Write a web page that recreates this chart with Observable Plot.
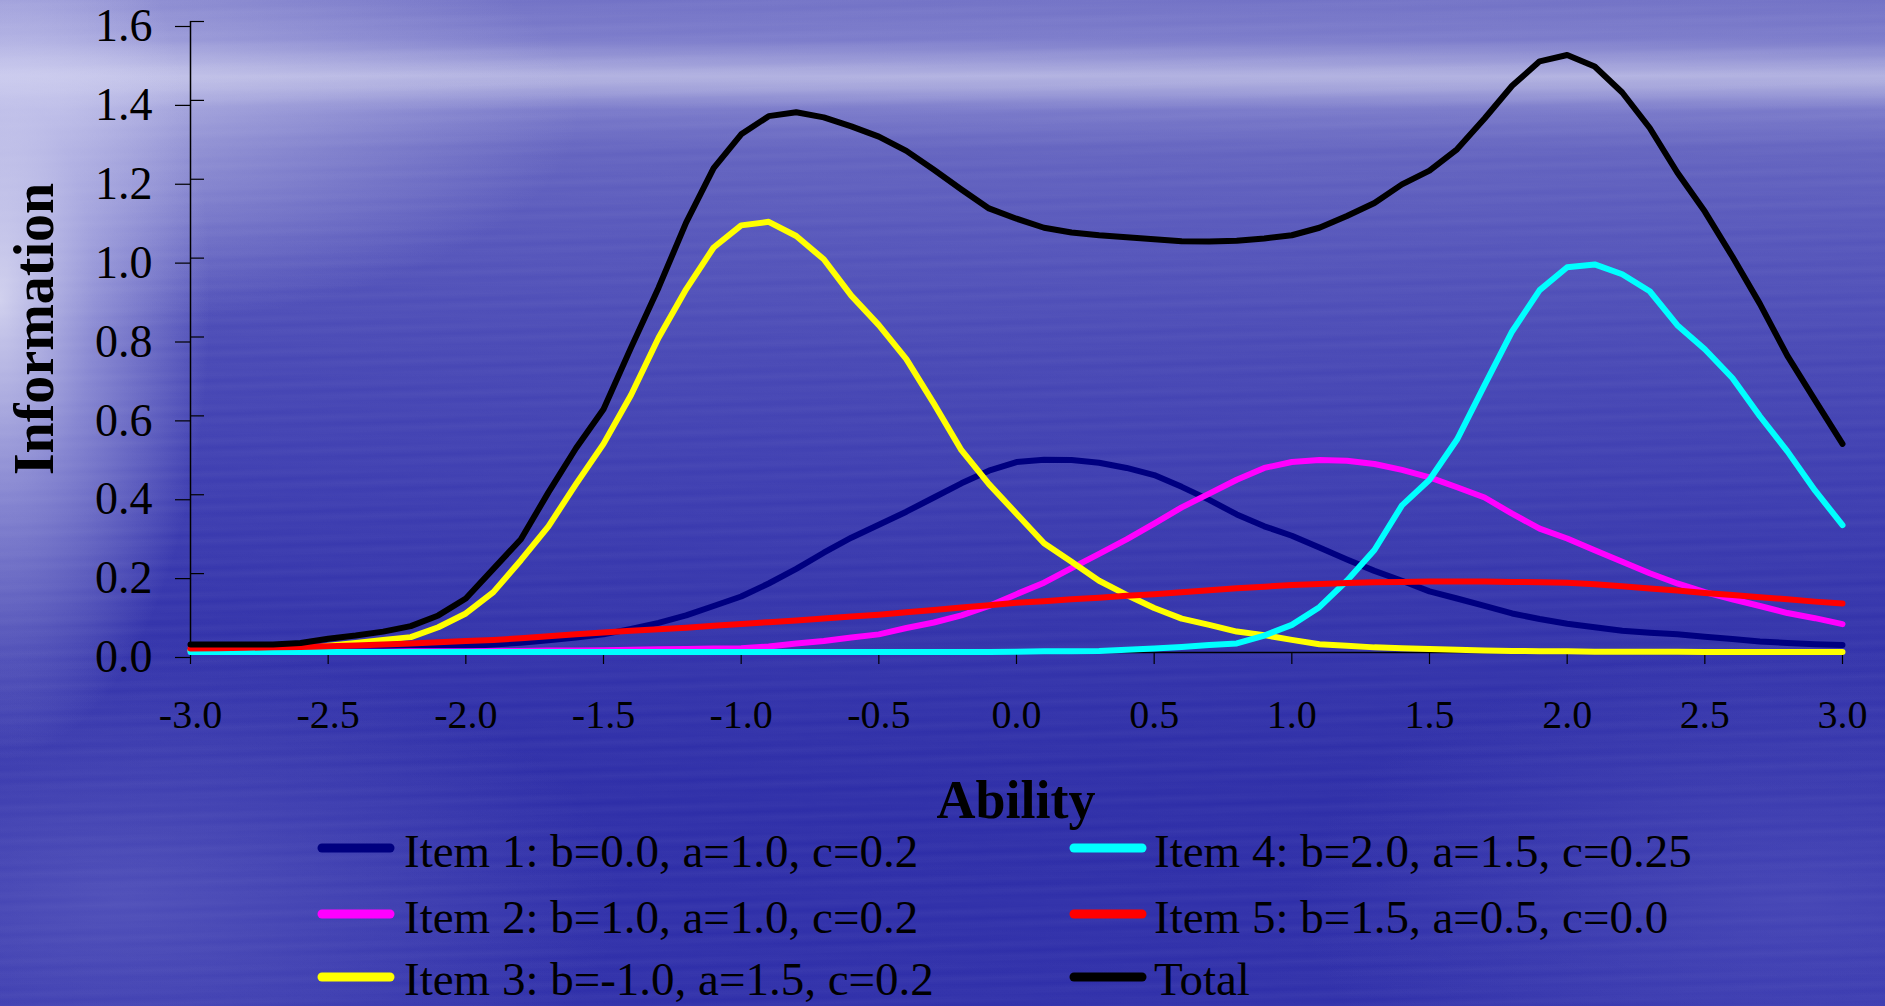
<!DOCTYPE html>
<html>
<head>
<meta charset="utf-8">
<script src="https://cdn.jsdelivr.net/npm/d3@7"></script>
<script src="https://cdn.jsdelivr.net/npm/@observablehq/plot@0.6"></script>
<style>
  html, body { margin: 0; padding: 0; }
  body { width: 1885px; height: 1006px; overflow: hidden; position: relative; font-family: "Liberation Serif", "Times New Roman", serif; }
  #bg {
    position: absolute; left: 0; top: 0; width: 1885px; height: 1006px;
    background:
      radial-gradient(ellipse 210px 460px at 0px 300px, rgba(238,238,250,0.80) 0%, rgba(215,215,245,0.45) 45%, rgba(200,200,240,0) 100%),
      radial-gradient(ellipse 520px 220px at 60px 110px, rgba(215,215,242,0.55) 0%, rgba(215,215,242,0) 100%),
      radial-gradient(ellipse 500px 260px at 120px 900px, rgba(140,140,215,0.35) 0%, rgba(140,140,215,0) 100%),
      radial-gradient(ellipse 500px 260px at 1800px 900px, rgba(120,120,210,0.30) 0%, rgba(120,120,210,0) 100%),
      repeating-linear-gradient(179deg, rgba(255,255,255,0) 0px, rgba(255,255,255,0.025) 5px, rgba(255,255,255,0) 11px),
      repeating-linear-gradient(177deg, rgba(255,255,255,0) 0px, rgba(255,255,255,0.02) 8px, rgba(255,255,255,0) 17px),
      linear-gradient(180deg, #7272c6 0px, #7c7ccb 40px, #9c9cd8 62px, #b2b2e1 76px, #a4a4db 88px, #7a7aca 110px, #6464c0 150px, #5656bb 240px, #4848b5 360px, #3e3eb1 480px, #3434ab 620px, #2e2ea8 800px, #3030aa 1006px);
  }
  #plot { position: absolute; left: 0; top: 0; }
  #overlay { position: absolute; left: 0; top: 0; }
</style>
</head>
<body>
<div id="bg"></div>
<div id="plot"></div>
<svg id="overlay" width="1885" height="1006"></svg>
<script>
// Ability values (theta)
const theta = [-3.0,-2.9,-2.8,-2.7,-2.6,-2.5,-2.4,-2.3,-2.2,-2.1,-2.0,-1.9,-1.8,-1.7,-1.6,-1.5,-1.4,-1.3,-1.2,-1.1,-1.0,-0.9,-0.8,-0.7,-0.6,-0.5,-0.4,-0.3,-0.2,-0.1,0.0,0.1,0.2,0.3,0.4,0.5,0.6,0.7,0.8,0.9,1.0,1.1,1.2,1.3,1.4,1.5,1.6,1.7,1.8,1.9,2.0,2.1,2.2,2.3,2.4,2.5,2.6,2.7,2.8,2.9,3.0];

const item1 = [0.002,0.002,0.003,0.003,0.004,0.005,0.006,0.008,0.010,0.013,0.016,0.020,0.025,0.031,0.038,0.046,0.060,0.075,0.094,0.118,0.142,0.175,0.212,0.253,0.291,0.324,0.357,0.393,0.429,0.461,0.483,0.489,0.488,0.481,0.468,0.450,0.420,0.387,0.350,0.320,0.296,0.266,0.236,0.207,0.182,0.155,0.137,0.118,0.099,0.085,0.073,0.064,0.055,0.050,0.046,0.040,0.034,0.028,0.024,0.021,0.019];

const item2 = [0.001,0.001,0.001,0.001,0.002,0.002,0.002,0.002,0.003,0.003,0.003,0.004,0.004,0.005,0.005,0.006,0.007,0.008,0.009,0.010,0.011,0.015,0.023,0.029,0.038,0.046,0.062,0.076,0.094,0.118,0.148,0.177,0.214,0.250,0.287,0.327,0.368,0.403,0.438,0.468,0.483,0.488,0.486,0.478,0.463,0.444,0.419,0.393,0.352,0.314,0.289,0.259,0.230,0.201,0.175,0.153,0.135,0.118,0.100,0.087,0.072];

const item3 = [0.005,0.005,0.005,0.005,0.006,0.017,0.024,0.032,0.039,0.064,0.099,0.153,0.234,0.320,0.427,0.529,0.653,0.798,0.921,1.027,1.083,1.092,1.056,0.997,0.905,0.830,0.744,0.631,0.513,0.427,0.352,0.277,0.230,0.182,0.146,0.113,0.086,0.070,0.053,0.044,0.032,0.021,0.017,0.013,0.011,0.009,0.007,0.005,0.004,0.003,0.003,0.002,0.002,0.002,0.002,0.001,0.001,0.001,0.001,0.001,0.001];

const item4 = [0.001,0.001,0.001,0.001,0.001,0.001,0.001,0.001,0.001,0.001,0.001,0.001,0.001,0.001,0.001,0.001,0.001,0.001,0.001,0.001,0.001,0.001,0.001,0.001,0.001,0.001,0.001,0.001,0.001,0.001,0.002,0.003,0.003,0.004,0.007,0.010,0.014,0.019,0.023,0.043,0.070,0.115,0.182,0.260,0.373,0.438,0.540,0.678,0.814,0.919,0.977,0.984,0.959,0.916,0.830,0.769,0.696,0.599,0.510,0.411,0.323];

const item5 = [0.010,0.011,0.012,0.013,0.014,0.016,0.018,0.020,0.023,0.026,0.029,0.032,0.036,0.041,0.046,0.051,0.055,0.059,0.063,0.068,0.072,0.077,0.081,0.086,0.091,0.096,0.102,0.108,0.114,0.120,0.126,0.130,0.135,0.139,0.144,0.148,0.153,0.158,0.163,0.167,0.171,0.174,0.176,0.178,0.179,0.180,0.180,0.180,0.179,0.178,0.177,0.173,0.168,0.162,0.157,0.151,0.146,0.140,0.135,0.129,0.124];

const total = [0.020,0.020,0.020,0.020,0.024,0.035,0.043,0.053,0.067,0.094,0.137,0.212,0.287,0.406,0.518,0.617,0.773,0.925,1.090,1.228,1.314,1.360,1.370,1.357,1.334,1.308,1.272,1.224,1.174,1.126,1.100,1.077,1.065,1.058,1.053,1.048,1.043,1.042,1.044,1.050,1.058,1.077,1.107,1.140,1.187,1.222,1.276,1.354,1.437,1.499,1.515,1.486,1.420,1.330,1.217,1.118,1.004,0.884,0.752,0.640,0.529];

const seriesNames = ["Item 1: b=0.0, a=1.0, c=0.2","Item 2: b=1.0, a=1.0, c=0.2","Item 3: b=-1.0, a=1.5, c=0.2","Item 4: b=2.0, a=1.5, c=0.25","Item 5: b=1.5, a=0.5, c=0.0","Total"];
const seriesColors = ["#000080","#ff00ff","#ffff00","#00ffff","#ff0000","#000000"];
const seriesValues = [item1, item2, item3, item4, item5, total];

const xTicks = [-3.0,-2.5,-2.0,-1.5,-1.0,-0.5,0.0,0.5,1.0,1.5,2.0,2.5,3.0];
const yTicks = [0.0,0.2,0.4,0.6,0.8,1.0,1.2,1.4,1.6];
const xTitle = "Ability";
const yTitle = "Information";

const W = 1885, H = 760;
const mL = 190, mR = 43, mT = 21, mB = 108;

const lineMarks = seriesValues.map((vals, i) =>
  Plot.line(theta.map((t, j) => ({theta: t, value: vals[j]})), {
    x: "theta", y: "value", stroke: seriesColors[i], strokeWidth: 6,
    strokeLinejoin: "round", strokeLinecap: "round"
  })
);

const chart = Plot.plot({
  width: W, height: H,
  marginLeft: mL, marginRight: mR, marginTop: mT, marginBottom: mB,
  x: {domain: [-3, 3]},
  y: {domain: [0, 1.6]},
  style: {background: "transparent", fontFamily: "'Liberation Serif', 'Times New Roman', serif", color: "black", overflow: "visible"},
  marks: [
    Plot.ruleX([-3], {stroke: "black", strokeWidth: 1.5}),
    Plot.ruleY([0], {stroke: "black", strokeWidth: 1.5}),
    Plot.axisY(yTicks, {tickSize: 15, tickPadding: 23, fontSize: 46, dy: 5, tickFormat: d => d.toFixed(1), label: null, stroke: "black", strokeOpacity: 1, strokeWidth: 1.2}),
    Plot.tickY(yTicks, {y: d => d, insetRight: (W - mL - mR) - 14, stroke: "black", strokeWidth: 1.2}),
    Plot.axisX(xTicks, {tickSize: 12, tickPadding: 35, fontSize: 40, tickFormat: d => d.toFixed(1), label: null, stroke: "black", strokeOpacity: 1, strokeWidth: 1.2}),
    ...lineMarks
  ]
});
document.getElementById("plot").appendChild(chart);

// Titles and legend
const ov = d3.select("#overlay");
const ff = "'Liberation Serif', 'Times New Roman', serif";
ov.append("text").attr("x", 1016).attr("y", 818).attr("text-anchor", "middle")
  .attr("font-family", ff).attr("font-weight", "bold").attr("font-size", 54).attr("fill", "black").text(xTitle);
ov.append("text").attr("transform", "translate(53,329) rotate(-90)").attr("text-anchor", "middle")
  .attr("font-family", ff).attr("font-weight", "bold").attr("font-size", 56).attr("fill", "black").text(yTitle);

const legendPos = [
  {sx: 318, tx: 404, cy: 848, by: 867},
  {sx: 318, tx: 404, cy: 914, by: 933},
  {sx: 318, tx: 404, cy: 977, by: 995},
  {sx: 1070, tx: 1154, cy: 848, by: 867},
  {sx: 1070, tx: 1154, cy: 914, by: 933},
  {sx: 1070, tx: 1154, cy: 977, by: 995}
];
seriesNames.forEach((name, i) => {
  const p = legendPos[i];
  ov.append("line").attr("x1", p.sx + 4).attr("x2", p.sx + 72).attr("y1", p.cy).attr("y2", p.cy)
    .attr("stroke", seriesColors[i]).attr("stroke-width", 9).attr("stroke-linecap", "round");
  ov.append("text").attr("x", p.tx).attr("y", p.by).attr("font-family", ff).attr("font-size", 47)
    .attr("fill", "black").text(name);
});
</script>
</body>
</html>
